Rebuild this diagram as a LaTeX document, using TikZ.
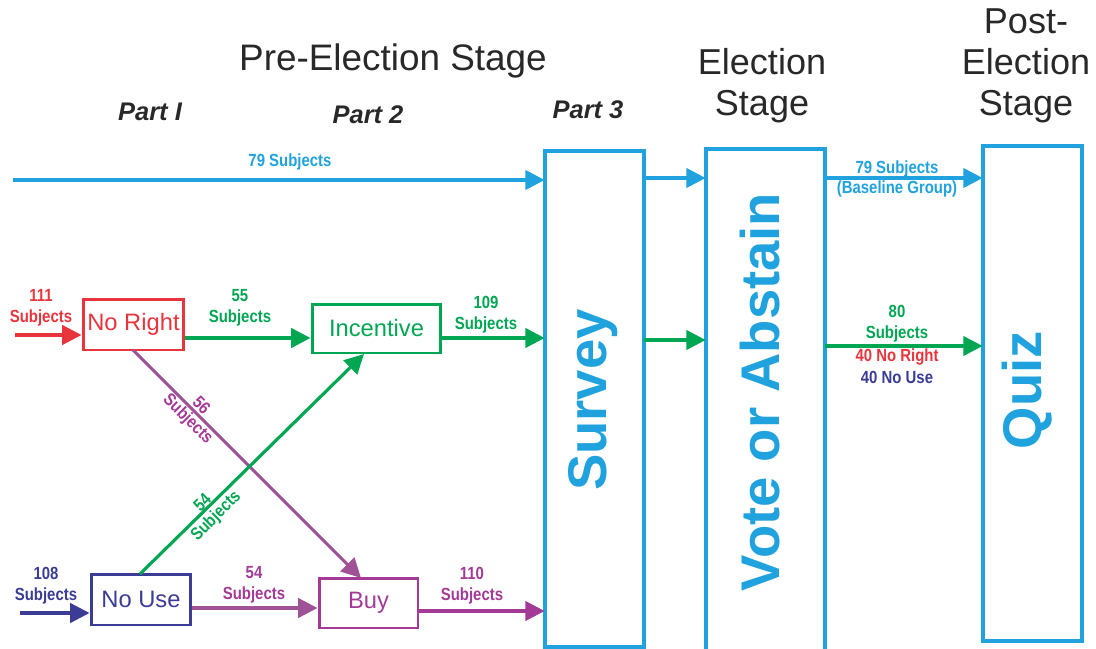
\documentclass[tikz,border=0pt]{standalone}
\usepackage{fontspec}
\setmainfont{Liberation Sans}
\newfontfamily\nar[FakeStretch=0.85]{Liberation Sans}
\usetikzlibrary{arrows.meta}
\definecolor{cblue}{RGB}{32,162,222}
\definecolor{cred}{RGB}{232,52,60}
\definecolor{cgreen}{RGB}{0,166,81}
\definecolor{cnavy}{RGB}{58,60,150}
\definecolor{cpurp}{RGB}{163,58,150}
\definecolor{cpurl}{RGB}{160,82,150}
\definecolor{cgray}{RGB}{40,40,40}
\tikzset{
  arr/.style={line width=1.8pt,-{Triangle[length=11pt,width=11pt]}},
  box/.style={draw,line width=1.7pt,rectangle,inner sep=0pt,font=\fontsize{13.5}{16}\selectfont},
  big/.style={draw=cblue,line width=1.8pt},
  bigtxt/.style={text=cblue,font=\fontsize{31}{36}\selectfont\bfseries,rotate=90},
  lbl/.style={font=\nar\bfseries\fontsize{10}{12}\selectfont,align=center,inner sep=0pt},
  dlbl/.style={font=\nar\bfseries\fontsize{10}{10.5}\selectfont,align=center,inner sep=0pt},
  stage/.style={text=cgray,font=\fontsize{20.5}{23.5}\selectfont,align=center},
  part/.style={text=cgray,font=\fontsize{14.5}{17}\selectfont\bfseries\itshape}
}
\begin{document}
\begin{tikzpicture}[x=0.02cm,y=-0.02cm]
\useasboundingbox (0,0) rectangle (1096,649);
% titles
\node[text=cgray,font=\fontsize{21}{24}\selectfont] (pre) at (393,61) {Pre-Election Stage};
\node[stage] (el) at (762,86) {Election\\Stage};
\node[stage] (post) at (1026,66) {Post-\\Election\\Stage};
\node[part] (p1) at (150,112) {Part I};
\node[part] (p2) at (368,115) {Part 2};
\node[part] (p3) at (588,110) {Part 3};
% big boxes
\draw[big] (545,649) -- (545,151) -- (644,151) -- (644,647) -- (545,647) -- cycle;
\node[inner sep=0pt,minimum width=1.98cm,minimum height=9.92cm] (survey) at (594.5,399) {};
\node[bigtxt] (surveyt) at (593,400) {Survey};
\draw[big] (706,660) -- (706,149) -- (825,149) -- (825,660);
\node[inner sep=0pt,minimum width=2.38cm,minimum height=10cm] (vote) at (765.5,399) {};
\node[bigtxt] (votet) at (760,392) {Vote or Abstain};
\draw[big] (983,146) rectangle (1082,641);
\node[inner sep=0pt,minimum width=1.98cm,minimum height=9.9cm] (quiz) at (1032.5,393.5) {};
\node[bigtxt] (quizt) at (1027,390) {Quiz};
% small boxes
\node[box,draw=cred,text=cred,minimum width=2.02cm,minimum height=1.02cm] (noright) at (133.5,324.5) {No Right};
\node[box,draw=cgreen,text=cgreen,minimum width=2.58cm,minimum height=0.98cm] (incent) at (376.5,328.5) {Incentive};
\node[box,draw=cnavy,text=cnavy,minimum width=2.0cm,minimum height=1.02cm] (nouse) at (141,599.5) {No Use};
\node[box,draw=cpurp,text=cpurp,minimum width=1.98cm,minimum height=1.0cm] (buy) at (368.5,603) {Buy};
% coordinates
\coordinate (s1) at (13,180);
\coordinate (s2) at (15,335);
\coordinate (s3) at (20,613);
% top blue arrow
\draw[arr,cblue] (s1) -- (s1 -| survey.west);
\node[lbl,text=cblue] (l79) at (290,162) {79 Subjects};
\draw[arr,cblue] (survey.east |- 0,178) -- (vote.west |- 0,178);
\draw[arr,cblue] (vote.east |- 0,178) -- (quiz.west |- 0,178);
\node[lbl,text=cblue] (l79b) at (897,169) {79 Subjects};
\node[lbl,text=cblue] (lbase) at (897,189) {(Baseline Group)};
% green middle
\draw[arr,cgreen] (survey.east |- 0,340) -- (vote.west |- 0,340);
\draw[arr,cgreen] (vote.east |- 0,346) -- (quiz.west |- 0,346);
\node[lbl,text=cgreen] (l80) at (897,324) {80\\Subjects};
\node[lbl,text=cred] (l40r) at (897,357) {40 No Right};
\node[lbl,text=cnavy] (l40u) at (897,377) {40 No Use};
% inputs
\draw[arr,cred] (s2) -- (noright.west |- s2);
\node[lbl,text=cred] (l111) at (41,308) {111\\Subjects};
\draw[arr,cnavy] (s3) -- (nouse.west |- s3);
\node[lbl,text=cnavy] (l108) at (46,586) {108\\Subjects};
% horizontals
\draw[arr,cgreen] (noright.east |- 0,338) -- (incent.west |- 0,338);
\node[lbl,text=cgreen] (l55) at (240,308) {55\\Subjects};
\draw[arr,cgreen] (incent.east |- 0,338) -- (survey.west |- 0,338);
\node[lbl,text=cgreen] (l109) at (486,315) {109\\Subjects};
\draw[arr,cpurl] (nouse.east |- 0,608) -- (buy.west |- 0,608);
\node[lbl,text=cpurp] (l54h) at (254,585) {54\\Subjects};
\draw[arr,cpurp] (buy.east |- 0,611) -- (survey.west |- 0,611);
\node[lbl,text=cpurp] (l110) at (472,586) {110\\Subjects};
% diagonals
\draw[arr,cpurl] (133,350) -- (361,578);
\node[dlbl,text=cpurp,rotate=-45] (l56) at (194,413) {56\\Subjects};
\draw[arr,cgreen] (140,574) -- (364,354);
\node[dlbl,text=cgreen,rotate=45] (l54d) at (210,510) {54\\Subjects};
\end{tikzpicture}
\end{document}
